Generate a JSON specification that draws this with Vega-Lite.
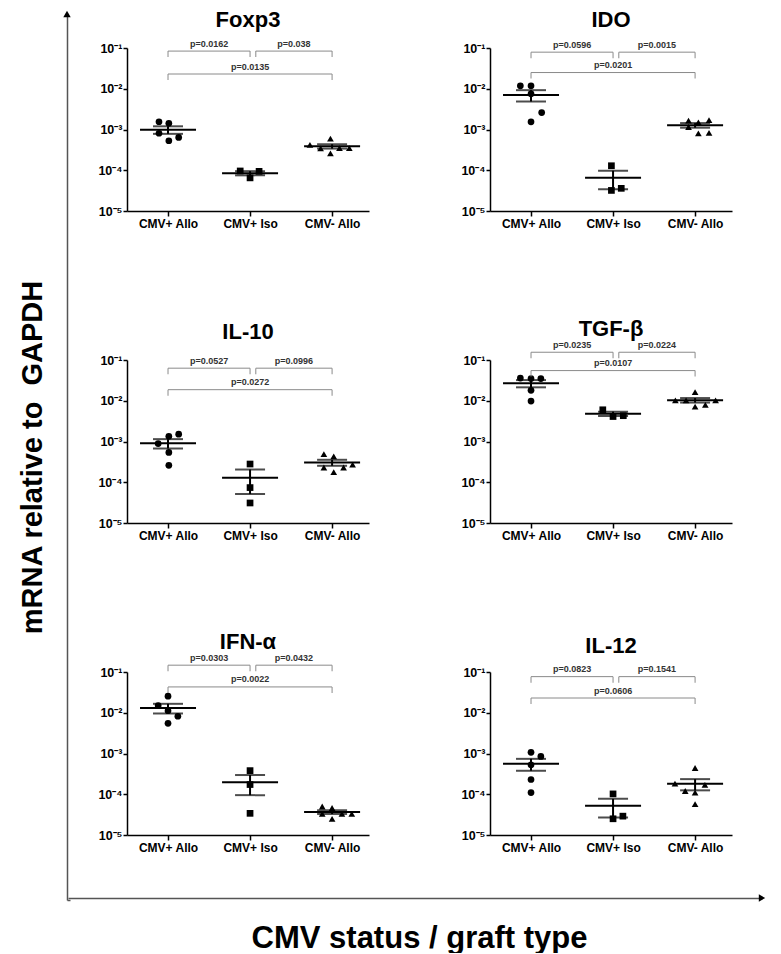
{
"$schema": "https://vega.github.io/schema/vega-lite/v6.json",
"padding": {"left": 18, "top": 9, "right": 0, "bottom": 0},
"spacing": 26,
"datasets": {
"pts": [
{"panel":"foxp3","group":"CMV+ Allo","g":1,"x":0.89,"v":0.00155},
{"panel":"foxp3","group":"CMV+ Allo","g":1,"x":1.01,"v":0.00142},
{"panel":"foxp3","group":"CMV+ Allo","g":1,"x":0.89,"v":0.00081},
{"panel":"foxp3","group":"CMV+ Allo","g":1,"x":1.01,"v":0.00053},
{"panel":"foxp3","group":"CMV+ Allo","g":1,"x":1.13,"v":0.00064},
{"panel":"foxp3","group":"CMV+ Iso","g":2,"x":1.88,"v":0.000096},
{"panel":"foxp3","group":"CMV+ Iso","g":2,"x":2.0,"v":0.000065},
{"panel":"foxp3","group":"CMV+ Iso","g":2,"x":2.11,"v":0.000094},
{"panel":"foxp3","group":"CMV- Allo","g":3,"x":2.73,"v":0.00042},
{"panel":"foxp3","group":"CMV- Allo","g":3,"x":2.86,"v":0.000345},
{"panel":"foxp3","group":"CMV- Allo","g":3,"x":2.98,"v":0.0006},
{"panel":"foxp3","group":"CMV- Allo","g":3,"x":2.98,"v":0.00026},
{"panel":"foxp3","group":"CMV- Allo","g":3,"x":3.09,"v":0.00035},
{"panel":"foxp3","group":"CMV- Allo","g":3,"x":3.21,"v":0.00035},
{"panel":"ido","group":"CMV+ Allo","g":1,"x":0.87,"v":0.0118},
{"panel":"ido","group":"CMV+ Allo","g":1,"x":1.0,"v":0.0118},
{"panel":"ido","group":"CMV+ Allo","g":1,"x":1.0,"v":0.0075},
{"panel":"ido","group":"CMV+ Allo","g":1,"x":1.13,"v":0.0026},
{"panel":"ido","group":"CMV+ Allo","g":1,"x":1.0,"v":0.00154},
{"panel":"ido","group":"CMV+ Iso","g":2,"x":1.98,"v":0.000129},
{"panel":"ido","group":"CMV+ Iso","g":2,"x":1.98,"v":0.000032},
{"panel":"ido","group":"CMV+ Iso","g":2,"x":2.1,"v":0.000036},
{"panel":"ido","group":"CMV- Allo","g":3,"x":2.92,"v":0.00165},
{"panel":"ido","group":"CMV- Allo","g":3,"x":3.04,"v":0.0015},
{"panel":"ido","group":"CMV- Allo","g":3,"x":3.17,"v":0.0017},
{"panel":"ido","group":"CMV- Allo","g":3,"x":2.92,"v":0.00115},
{"panel":"ido","group":"CMV- Allo","g":3,"x":3.04,"v":0.0008},
{"panel":"ido","group":"CMV- Allo","g":3,"x":3.17,"v":0.00083},
{"panel":"il10","group":"CMV+ Allo","g":1,"x":0.88,"v":0.00089},
{"panel":"il10","group":"CMV+ Allo","g":1,"x":1.01,"v":0.00134},
{"panel":"il10","group":"CMV+ Allo","g":1,"x":1.13,"v":0.00151},
{"panel":"il10","group":"CMV+ Allo","g":1,"x":1.01,"v":0.00054},
{"panel":"il10","group":"CMV+ Allo","g":1,"x":1.01,"v":0.00026},
{"panel":"il10","group":"CMV+ Iso","g":2,"x":2.0,"v":0.00028},
{"panel":"il10","group":"CMV+ Iso","g":2,"x":2.0,"v":0.000074},
{"panel":"il10","group":"CMV+ Iso","g":2,"x":2.0,"v":0.000031},
{"panel":"il10","group":"CMV- Allo","g":3,"x":2.9,"v":0.00049},
{"panel":"il10","group":"CMV- Allo","g":3,"x":3.02,"v":0.00043},
{"panel":"il10","group":"CMV- Allo","g":3,"x":2.9,"v":0.00023},
{"panel":"il10","group":"CMV- Allo","g":3,"x":3.02,"v":0.000178},
{"panel":"il10","group":"CMV- Allo","g":3,"x":3.14,"v":0.00023},
{"panel":"il10","group":"CMV- Allo","g":3,"x":3.25,"v":0.00027},
{"panel":"tgfb","group":"CMV+ Allo","g":1,"x":0.87,"v":0.036},
{"panel":"tgfb","group":"CMV+ Allo","g":1,"x":1.0,"v":0.035},
{"panel":"tgfb","group":"CMV+ Allo","g":1,"x":1.12,"v":0.035},
{"panel":"tgfb","group":"CMV+ Allo","g":1,"x":1.0,"v":0.018},
{"panel":"tgfb","group":"CMV+ Allo","g":1,"x":1.0,"v":0.0098},
{"panel":"tgfb","group":"CMV+ Iso","g":2,"x":1.875,"v":0.006},
{"panel":"tgfb","group":"CMV+ Iso","g":2,"x":2.0,"v":0.0041},
{"panel":"tgfb","group":"CMV+ Iso","g":2,"x":2.125,"v":0.0043},
{"panel":"tgfb","group":"CMV- Allo","g":3,"x":2.76,"v":0.0102},
{"panel":"tgfb","group":"CMV- Allo","g":3,"x":2.89,"v":0.0102},
{"panel":"tgfb","group":"CMV- Allo","g":3,"x":3.0,"v":0.0163},
{"panel":"tgfb","group":"CMV- Allo","g":3,"x":3.0,"v":0.0072},
{"panel":"tgfb","group":"CMV- Allo","g":3,"x":3.125,"v":0.0079},
{"panel":"tgfb","group":"CMV- Allo","g":3,"x":3.25,"v":0.0102},
{"panel":"ifna","group":"CMV+ Allo","g":1,"x":1.0,"v":0.0255},
{"panel":"ifna","group":"CMV+ Allo","g":1,"x":0.88,"v":0.015},
{"panel":"ifna","group":"CMV+ Allo","g":1,"x":1.0,"v":0.0112},
{"panel":"ifna","group":"CMV+ Allo","g":1,"x":1.12,"v":0.0082},
{"panel":"ifna","group":"CMV+ Allo","g":1,"x":1.0,"v":0.0055},
{"panel":"ifna","group":"CMV+ Iso","g":2,"x":2.0,"v":0.00038},
{"panel":"ifna","group":"CMV+ Iso","g":2,"x":2.0,"v":0.000173},
{"panel":"ifna","group":"CMV+ Iso","g":2,"x":2.0,"v":0.000034},
{"panel":"ifna","group":"CMV- Allo","g":3,"x":2.88,"v":0.00005},
{"panel":"ifna","group":"CMV- Allo","g":3,"x":3.0,"v":0.000046},
{"panel":"ifna","group":"CMV- Allo","g":3,"x":2.88,"v":0.000033},
{"panel":"ifna","group":"CMV- Allo","g":3,"x":3.0,"v":0.000025},
{"panel":"ifna","group":"CMV- Allo","g":3,"x":3.12,"v":0.000033},
{"panel":"ifna","group":"CMV- Allo","g":3,"x":3.24,"v":0.000033},
{"panel":"il12","group":"CMV+ Allo","g":1,"x":1.0,"v":0.00107},
{"panel":"il12","group":"CMV+ Allo","g":1,"x":1.12,"v":0.00085},
{"panel":"il12","group":"CMV+ Allo","g":1,"x":1.0,"v":0.00053},
{"panel":"il12","group":"CMV+ Allo","g":1,"x":1.0,"v":0.00023},
{"panel":"il12","group":"CMV+ Allo","g":1,"x":1.0,"v":0.00011},
{"panel":"il12","group":"CMV+ Iso","g":2,"x":2.0,"v":0.000102},
{"panel":"il12","group":"CMV+ Iso","g":2,"x":2.0,"v":0.000025},
{"panel":"il12","group":"CMV+ Iso","g":2,"x":2.12,"v":0.000029},
{"panel":"il12","group":"CMV- Allo","g":3,"x":3.0,"v":0.00044},
{"panel":"il12","group":"CMV- Allo","g":3,"x":2.755,"v":0.000182},
{"panel":"il12","group":"CMV- Allo","g":3,"x":2.88,"v":0.00012},
{"panel":"il12","group":"CMV- Allo","g":3,"x":3.0,"v":0.00011},
{"panel":"il12","group":"CMV- Allo","g":3,"x":3.12,"v":0.00017},
{"panel":"il12","group":"CMV- Allo","g":3,"x":3.0,"v":0.000057}
],
"br": [
{"panel":"foxp3","x1":1,"x2":2,"xm":1.5,"y":0.084,"p":"p=0.0162"},
{"panel":"foxp3","x1":2.07,"x2":3,"xm":2.535,"y":0.084,"p":"p=0.038"},
{"panel":"foxp3","x1":1,"x2":3,"xm":2,"y":0.023,"p":"p=0.0135"},
{"panel":"ido","x1":1,"x2":2,"xm":1.5,"y":0.079,"p":"p=0.0596"},
{"panel":"ido","x1":2.07,"x2":3,"xm":2.535,"y":0.079,"p":"p=0.0015"},
{"panel":"ido","x1":1,"x2":3,"xm":2,"y":0.025,"p":"p=0.0201"},
{"panel":"il10","x1":1,"x2":2,"xm":1.5,"y":0.063,"p":"p=0.0527"},
{"panel":"il10","x1":2.07,"x2":3,"xm":2.535,"y":0.063,"p":"p=0.0996"},
{"panel":"il10","x1":1,"x2":3,"xm":2,"y":0.0187,"p":"p=0.0272"},
{"panel":"tgfb","x1":1,"x2":2,"xm":1.5,"y":0.155,"p":"p=0.0235"},
{"panel":"tgfb","x1":2.07,"x2":3,"xm":2.535,"y":0.155,"p":"p=0.0224"},
{"panel":"tgfb","x1":1,"x2":3,"xm":2,"y":0.055,"p":"p=0.0107"},
{"panel":"ifna","x1":1,"x2":2,"xm":1.5,"y":0.147,"p":"p=0.0303"},
{"panel":"ifna","x1":2.07,"x2":3,"xm":2.535,"y":0.147,"p":"p=0.0432"},
{"panel":"ifna","x1":1,"x2":3,"xm":2,"y":0.043,"p":"p=0.0022"},
{"panel":"il12","x1":1,"x2":2,"xm":1.5,"y":0.077,"p":"p=0.0823"},
{"panel":"il12","x1":2.07,"x2":3,"xm":2.535,"y":0.077,"p":"p=0.1541"},
{"panel":"il12","x1":1,"x2":3,"xm":2,"y":0.023,"p":"p=0.0606"}
]
},
"hconcat": [
{
"width": 3, "height": 852,
"data": {"values": [{"a": 0}]},
"mark": {"type": "point", "shape": "triangle-up", "filled": true, "color": "black", "size": 55, "opacity": 1},
"encoding": {
"x": {"datum": 0, "type": "quantitative", "scale": {"domain": [0, 1]}, "axis": {"domain": true, "domainColor": "#555555", "domainWidth": 1.5, "ticks": false, "labels": false, "title": null, "grid": false}},
"y": {"datum": 1, "type": "quantitative", "scale": {"domain": [0, 1], "range": [852, -34]}, "axis": {"domain": true, "domainColor": "#555555", "domainWidth": 1.5, "ticks": false, "labels": false, "grid": false, "title": "mRNA relative to\u00a0 GAPDH", "titleFont": "Liberation Sans", "titleFontSize": 29, "titleFontWeight": "bold", "titleColor": "black", "titlePadding": 20}}
}
},
{
"spacing": 41,
"vconcat": [
{
"columns": 2,
"bounds": "flush",
"spacing": {"row": 149, "column": 121},
"concat": [
{
"title": {"text": "Foxp3", "offset": 7.5},
"width": 242, "height": 163,
"layer": [
{"data": {"name": "pts"}, "transform": [{"filter": "datum.panel == 'foxp3'"}], "mark": {"type": "point", "filled": true, "color": "black", "size": 45, "opacity": 1}, "encoding": {"x": {"field": "x", "type": "quantitative", "scale": {"domain": [0.5, 3.45], "nice": false, "zero": false}, "axis": {"values": [1, 2, 3], "labelExpr": "datum.value == 1 ? 'CMV+ Allo' : datum.value == 2 ? 'CMV+ Iso' : 'CMV- Allo'", "title": null, "tickSize": 5, "tickWidth": 1.5, "domainWidth": 1.5, "labelFontSize": 12, "labelFontWeight": "bold", "labelPadding": 2, "labelFlush": false, "labelOverlap": false, "grid": false}}, "y": {"field": "v", "type": "quantitative", "scale": {"type": "log", "domain": [0.00001, 0.1], "nice": false}, "axis": {"values": [0.00001, 0.0001, 0.001, 0.01, 0.1], "labelExpr": "datum.value > 0.05 ? '10⁻¹' : datum.value > 0.005 ? '10⁻²' : datum.value > 0.0005 ? '10⁻³' : datum.value > 0.00005 ? '10⁻⁴' : '10⁻⁵'", "title": null, "tickSize": 4, "tickWidth": 1.5, "domainWidth": 1.5, "labelFontSize": 12.5, "labelFontWeight": "bold", "labelPadding": 1, "labelFlush": false, "labelOverlap": false, "grid": false}}, "shape": {"field": "group", "type": "nominal", "scale": {"domain": ["CMV+ Allo", "CMV+ Iso", "CMV- Allo"], "range": ["circle", "square", "triangle-up"]}, "legend": null}}},
{"data": {"name": "br"}, "transform": [{"filter": "datum.panel == 'foxp3'"}], "mark": {"type": "rule", "color": "#8a8a8a", "strokeWidth": 1, "clip": false}, "encoding": {"x": {"field": "x1", "type": "quantitative", "scale": {"domain": [0.5, 3.45], "nice": false, "zero": false}, "axis": {"values": [1, 2, 3], "labelExpr": "datum.value == 1 ? 'CMV+ Allo' : datum.value == 2 ? 'CMV+ Iso' : 'CMV- Allo'", "title": null, "tickSize": 5, "tickWidth": 1.5, "domainWidth": 1.5, "labelFontSize": 12, "labelFontWeight": "bold", "labelPadding": 2, "labelFlush": false, "labelOverlap": false, "grid": false}}, "x2": {"field": "x2"}, "y": {"field": "y", "type": "quantitative", "scale": {"type": "log", "domain": [0.00001, 0.1], "nice": false}, "axis": {"values": [0.00001, 0.0001, 0.001, 0.01, 0.1], "labelExpr": "datum.value > 0.05 ? '10⁻¹' : datum.value > 0.005 ? '10⁻²' : datum.value > 0.0005 ? '10⁻³' : datum.value > 0.00005 ? '10⁻⁴' : '10⁻⁵'", "title": null, "tickSize": 4, "tickWidth": 1.5, "domainWidth": 1.5, "labelFontSize": 12.5, "labelFontWeight": "bold", "labelPadding": 1, "labelFlush": false, "labelOverlap": false, "grid": false}}}},
{"data": {"name": "br"}, "transform": [{"filter": "datum.panel == 'foxp3'"}], "mark": {"type": "tick", "orient": "vertical", "size": 6, "thickness": 1, "color": "#8a8a8a", "yOffset": 3, "opacity": 1, "clip": false}, "encoding": {"x": {"field": "x1", "type": "quantitative", "scale": {"domain": [0.5, 3.45], "nice": false, "zero": false}, "axis": {"values": [1, 2, 3], "labelExpr": "datum.value == 1 ? 'CMV+ Allo' : datum.value == 2 ? 'CMV+ Iso' : 'CMV- Allo'", "title": null, "tickSize": 5, "tickWidth": 1.5, "domainWidth": 1.5, "labelFontSize": 12, "labelFontWeight": "bold", "labelPadding": 2, "labelFlush": false, "labelOverlap": false, "grid": false}}, "y": {"field": "y", "type": "quantitative", "scale": {"type": "log", "domain": [0.00001, 0.1], "nice": false}, "axis": {"values": [0.00001, 0.0001, 0.001, 0.01, 0.1], "labelExpr": "datum.value > 0.05 ? '10⁻¹' : datum.value > 0.005 ? '10⁻²' : datum.value > 0.0005 ? '10⁻³' : datum.value > 0.00005 ? '10⁻⁴' : '10⁻⁵'", "title": null, "tickSize": 4, "tickWidth": 1.5, "domainWidth": 1.5, "labelFontSize": 12.5, "labelFontWeight": "bold", "labelPadding": 1, "labelFlush": false, "labelOverlap": false, "grid": false}}}},
{"data": {"name": "br"}, "transform": [{"filter": "datum.panel == 'foxp3'"}], "mark": {"type": "tick", "orient": "vertical", "size": 6, "thickness": 1, "color": "#8a8a8a", "yOffset": 3, "opacity": 1, "clip": false}, "encoding": {"x": {"field": "x2", "type": "quantitative", "scale": {"domain": [0.5, 3.45], "nice": false, "zero": false}, "axis": {"values": [1, 2, 3], "labelExpr": "datum.value == 1 ? 'CMV+ Allo' : datum.value == 2 ? 'CMV+ Iso' : 'CMV- Allo'", "title": null, "tickSize": 5, "tickWidth": 1.5, "domainWidth": 1.5, "labelFontSize": 12, "labelFontWeight": "bold", "labelPadding": 2, "labelFlush": false, "labelOverlap": false, "grid": false}}, "y": {"field": "y", "type": "quantitative", "scale": {"type": "log", "domain": [0.00001, 0.1], "nice": false}, "axis": {"values": [0.00001, 0.0001, 0.001, 0.01, 0.1], "labelExpr": "datum.value > 0.05 ? '10⁻¹' : datum.value > 0.005 ? '10⁻²' : datum.value > 0.0005 ? '10⁻³' : datum.value > 0.00005 ? '10⁻⁴' : '10⁻⁵'", "title": null, "tickSize": 4, "tickWidth": 1.5, "domainWidth": 1.5, "labelFontSize": 12.5, "labelFontWeight": "bold", "labelPadding": 1, "labelFlush": false, "labelOverlap": false, "grid": false}}}},
{"data": {"name": "br"}, "transform": [{"filter": "datum.panel == 'foxp3'"}], "mark": {"type": "text", "fontSize": 9, "fontWeight": "bold", "color": "#333333", "dy": -4.5, "baseline": "alphabetic", "clip": false}, "encoding": {"x": {"field": "xm", "type": "quantitative", "scale": {"domain": [0.5, 3.45], "nice": false, "zero": false}, "axis": {"values": [1, 2, 3], "labelExpr": "datum.value == 1 ? 'CMV+ Allo' : datum.value == 2 ? 'CMV+ Iso' : 'CMV- Allo'", "title": null, "tickSize": 5, "tickWidth": 1.5, "domainWidth": 1.5, "labelFontSize": 12, "labelFontWeight": "bold", "labelPadding": 2, "labelFlush": false, "labelOverlap": false, "grid": false}}, "y": {"field": "y", "type": "quantitative", "scale": {"type": "log", "domain": [0.00001, 0.1], "nice": false}, "axis": {"values": [0.00001, 0.0001, 0.001, 0.01, 0.1], "labelExpr": "datum.value > 0.05 ? '10⁻¹' : datum.value > 0.005 ? '10⁻²' : datum.value > 0.0005 ? '10⁻³' : datum.value > 0.00005 ? '10⁻⁴' : '10⁻⁵'", "title": null, "tickSize": 4, "tickWidth": 1.5, "domainWidth": 1.5, "labelFontSize": 12.5, "labelFontWeight": "bold", "labelPadding": 1, "labelFlush": false, "labelOverlap": false, "grid": false}}, "text": {"field": "p"}}},
{"data": {"name": "pts"}, "transform": [{"filter": "datum.panel == 'foxp3'"}], "mark": {"type": "tick", "orient": "horizontal", "size": 56, "thickness": 2, "color": "black", "opacity": 1}, "encoding": {"x": {"field": "g", "type": "quantitative", "scale": {"domain": [0.5, 3.45], "nice": false, "zero": false}, "axis": {"values": [1, 2, 3], "labelExpr": "datum.value == 1 ? 'CMV+ Allo' : datum.value == 2 ? 'CMV+ Iso' : 'CMV- Allo'", "title": null, "tickSize": 5, "tickWidth": 1.5, "domainWidth": 1.5, "labelFontSize": 12, "labelFontWeight": "bold", "labelPadding": 2, "labelFlush": false, "labelOverlap": false, "grid": false}}, "y": {"field": "v", "type": "quantitative", "aggregate": "mean", "scale": {"type": "log", "domain": [0.00001, 0.1], "nice": false}, "axis": {"values": [0.00001, 0.0001, 0.001, 0.01, 0.1], "labelExpr": "datum.value > 0.05 ? '10⁻¹' : datum.value > 0.005 ? '10⁻²' : datum.value > 0.0005 ? '10⁻³' : datum.value > 0.00005 ? '10⁻⁴' : '10⁻⁵'", "title": null, "tickSize": 4, "tickWidth": 1.5, "domainWidth": 1.5, "labelFontSize": 12.5, "labelFontWeight": "bold", "labelPadding": 1, "labelFlush": false, "labelOverlap": false, "grid": false}}}},
{"data": {"name": "pts"}, "transform": [{"filter": "datum.panel == 'foxp3'"}], "mark": {"type": "errorbar", "extent": "stderr", "orient": "vertical", "color": "black", "thickness": 2, "ticks": {"size": 30, "thickness": 2, "color": "black"}, "rule": {"strokeWidth": 2, "color": "black"}}, "encoding": {"x": {"field": "g", "type": "quantitative", "scale": {"domain": [0.5, 3.45], "nice": false, "zero": false}, "axis": {"values": [1, 2, 3], "labelExpr": "datum.value == 1 ? 'CMV+ Allo' : datum.value == 2 ? 'CMV+ Iso' : 'CMV- Allo'", "title": null, "tickSize": 5, "tickWidth": 1.5, "domainWidth": 1.5, "labelFontSize": 12, "labelFontWeight": "bold", "labelPadding": 2, "labelFlush": false, "labelOverlap": false, "grid": false}}, "y": {"field": "v", "type": "quantitative", "scale": {"type": "log", "domain": [0.00001, 0.1], "nice": false}, "axis": {"values": [0.00001, 0.0001, 0.001, 0.01, 0.1], "labelExpr": "datum.value > 0.05 ? '10⁻¹' : datum.value > 0.005 ? '10⁻²' : datum.value > 0.0005 ? '10⁻³' : datum.value > 0.00005 ? '10⁻⁴' : '10⁻⁵'", "title": null, "tickSize": 4, "tickWidth": 1.5, "domainWidth": 1.5, "labelFontSize": 12.5, "labelFontWeight": "bold", "labelPadding": 1, "labelFlush": false, "labelOverlap": false, "grid": false}}}}
]
},
{
"title": {"text": "IDO", "offset": 8.5},
"width": 242, "height": 163,
"layer": [
{"data": {"name": "pts"}, "transform": [{"filter": "datum.panel == 'ido'"}], "mark": {"type": "point", "filled": true, "color": "black", "size": 45, "opacity": 1}, "encoding": {"x": {"field": "x", "type": "quantitative", "scale": {"domain": [0.5, 3.45], "nice": false, "zero": false}, "axis": {"values": [1, 2, 3], "labelExpr": "datum.value == 1 ? 'CMV+ Allo' : datum.value == 2 ? 'CMV+ Iso' : 'CMV- Allo'", "title": null, "tickSize": 5, "tickWidth": 1.5, "domainWidth": 1.5, "labelFontSize": 12, "labelFontWeight": "bold", "labelPadding": 2, "labelFlush": false, "labelOverlap": false, "grid": false}}, "y": {"field": "v", "type": "quantitative", "scale": {"type": "log", "domain": [0.00001, 0.1], "nice": false}, "axis": {"values": [0.00001, 0.0001, 0.001, 0.01, 0.1], "labelExpr": "datum.value > 0.05 ? '10⁻¹' : datum.value > 0.005 ? '10⁻²' : datum.value > 0.0005 ? '10⁻³' : datum.value > 0.00005 ? '10⁻⁴' : '10⁻⁵'", "title": null, "tickSize": 4, "tickWidth": 1.5, "domainWidth": 1.5, "labelFontSize": 12.5, "labelFontWeight": "bold", "labelPadding": 1, "labelFlush": false, "labelOverlap": false, "grid": false}}, "shape": {"field": "group", "type": "nominal", "scale": {"domain": ["CMV+ Allo", "CMV+ Iso", "CMV- Allo"], "range": ["circle", "square", "triangle-up"]}, "legend": null}}},
{"data": {"name": "br"}, "transform": [{"filter": "datum.panel == 'ido'"}], "mark": {"type": "rule", "color": "#8a8a8a", "strokeWidth": 1, "clip": false}, "encoding": {"x": {"field": "x1", "type": "quantitative", "scale": {"domain": [0.5, 3.45], "nice": false, "zero": false}, "axis": {"values": [1, 2, 3], "labelExpr": "datum.value == 1 ? 'CMV+ Allo' : datum.value == 2 ? 'CMV+ Iso' : 'CMV- Allo'", "title": null, "tickSize": 5, "tickWidth": 1.5, "domainWidth": 1.5, "labelFontSize": 12, "labelFontWeight": "bold", "labelPadding": 2, "labelFlush": false, "labelOverlap": false, "grid": false}}, "x2": {"field": "x2"}, "y": {"field": "y", "type": "quantitative", "scale": {"type": "log", "domain": [0.00001, 0.1], "nice": false}, "axis": {"values": [0.00001, 0.0001, 0.001, 0.01, 0.1], "labelExpr": "datum.value > 0.05 ? '10⁻¹' : datum.value > 0.005 ? '10⁻²' : datum.value > 0.0005 ? '10⁻³' : datum.value > 0.00005 ? '10⁻⁴' : '10⁻⁵'", "title": null, "tickSize": 4, "tickWidth": 1.5, "domainWidth": 1.5, "labelFontSize": 12.5, "labelFontWeight": "bold", "labelPadding": 1, "labelFlush": false, "labelOverlap": false, "grid": false}}}},
{"data": {"name": "br"}, "transform": [{"filter": "datum.panel == 'ido'"}], "mark": {"type": "tick", "orient": "vertical", "size": 6, "thickness": 1, "color": "#8a8a8a", "yOffset": 3, "opacity": 1, "clip": false}, "encoding": {"x": {"field": "x1", "type": "quantitative", "scale": {"domain": [0.5, 3.45], "nice": false, "zero": false}, "axis": {"values": [1, 2, 3], "labelExpr": "datum.value == 1 ? 'CMV+ Allo' : datum.value == 2 ? 'CMV+ Iso' : 'CMV- Allo'", "title": null, "tickSize": 5, "tickWidth": 1.5, "domainWidth": 1.5, "labelFontSize": 12, "labelFontWeight": "bold", "labelPadding": 2, "labelFlush": false, "labelOverlap": false, "grid": false}}, "y": {"field": "y", "type": "quantitative", "scale": {"type": "log", "domain": [0.00001, 0.1], "nice": false}, "axis": {"values": [0.00001, 0.0001, 0.001, 0.01, 0.1], "labelExpr": "datum.value > 0.05 ? '10⁻¹' : datum.value > 0.005 ? '10⁻²' : datum.value > 0.0005 ? '10⁻³' : datum.value > 0.00005 ? '10⁻⁴' : '10⁻⁵'", "title": null, "tickSize": 4, "tickWidth": 1.5, "domainWidth": 1.5, "labelFontSize": 12.5, "labelFontWeight": "bold", "labelPadding": 1, "labelFlush": false, "labelOverlap": false, "grid": false}}}},
{"data": {"name": "br"}, "transform": [{"filter": "datum.panel == 'ido'"}], "mark": {"type": "tick", "orient": "vertical", "size": 6, "thickness": 1, "color": "#8a8a8a", "yOffset": 3, "opacity": 1, "clip": false}, "encoding": {"x": {"field": "x2", "type": "quantitative", "scale": {"domain": [0.5, 3.45], "nice": false, "zero": false}, "axis": {"values": [1, 2, 3], "labelExpr": "datum.value == 1 ? 'CMV+ Allo' : datum.value == 2 ? 'CMV+ Iso' : 'CMV- Allo'", "title": null, "tickSize": 5, "tickWidth": 1.5, "domainWidth": 1.5, "labelFontSize": 12, "labelFontWeight": "bold", "labelPadding": 2, "labelFlush": false, "labelOverlap": false, "grid": false}}, "y": {"field": "y", "type": "quantitative", "scale": {"type": "log", "domain": [0.00001, 0.1], "nice": false}, "axis": {"values": [0.00001, 0.0001, 0.001, 0.01, 0.1], "labelExpr": "datum.value > 0.05 ? '10⁻¹' : datum.value > 0.005 ? '10⁻²' : datum.value > 0.0005 ? '10⁻³' : datum.value > 0.00005 ? '10⁻⁴' : '10⁻⁵'", "title": null, "tickSize": 4, "tickWidth": 1.5, "domainWidth": 1.5, "labelFontSize": 12.5, "labelFontWeight": "bold", "labelPadding": 1, "labelFlush": false, "labelOverlap": false, "grid": false}}}},
{"data": {"name": "br"}, "transform": [{"filter": "datum.panel == 'ido'"}], "mark": {"type": "text", "fontSize": 9, "fontWeight": "bold", "color": "#333333", "dy": -4.5, "baseline": "alphabetic", "clip": false}, "encoding": {"x": {"field": "xm", "type": "quantitative", "scale": {"domain": [0.5, 3.45], "nice": false, "zero": false}, "axis": {"values": [1, 2, 3], "labelExpr": "datum.value == 1 ? 'CMV+ Allo' : datum.value == 2 ? 'CMV+ Iso' : 'CMV- Allo'", "title": null, "tickSize": 5, "tickWidth": 1.5, "domainWidth": 1.5, "labelFontSize": 12, "labelFontWeight": "bold", "labelPadding": 2, "labelFlush": false, "labelOverlap": false, "grid": false}}, "y": {"field": "y", "type": "quantitative", "scale": {"type": "log", "domain": [0.00001, 0.1], "nice": false}, "axis": {"values": [0.00001, 0.0001, 0.001, 0.01, 0.1], "labelExpr": "datum.value > 0.05 ? '10⁻¹' : datum.value > 0.005 ? '10⁻²' : datum.value > 0.0005 ? '10⁻³' : datum.value > 0.00005 ? '10⁻⁴' : '10⁻⁵'", "title": null, "tickSize": 4, "tickWidth": 1.5, "domainWidth": 1.5, "labelFontSize": 12.5, "labelFontWeight": "bold", "labelPadding": 1, "labelFlush": false, "labelOverlap": false, "grid": false}}, "text": {"field": "p"}}},
{"data": {"name": "pts"}, "transform": [{"filter": "datum.panel == 'ido'"}], "mark": {"type": "tick", "orient": "horizontal", "size": 56, "thickness": 2, "color": "black", "opacity": 1}, "encoding": {"x": {"field": "g", "type": "quantitative", "scale": {"domain": [0.5, 3.45], "nice": false, "zero": false}, "axis": {"values": [1, 2, 3], "labelExpr": "datum.value == 1 ? 'CMV+ Allo' : datum.value == 2 ? 'CMV+ Iso' : 'CMV- Allo'", "title": null, "tickSize": 5, "tickWidth": 1.5, "domainWidth": 1.5, "labelFontSize": 12, "labelFontWeight": "bold", "labelPadding": 2, "labelFlush": false, "labelOverlap": false, "grid": false}}, "y": {"field": "v", "type": "quantitative", "aggregate": "mean", "scale": {"type": "log", "domain": [0.00001, 0.1], "nice": false}, "axis": {"values": [0.00001, 0.0001, 0.001, 0.01, 0.1], "labelExpr": "datum.value > 0.05 ? '10⁻¹' : datum.value > 0.005 ? '10⁻²' : datum.value > 0.0005 ? '10⁻³' : datum.value > 0.00005 ? '10⁻⁴' : '10⁻⁵'", "title": null, "tickSize": 4, "tickWidth": 1.5, "domainWidth": 1.5, "labelFontSize": 12.5, "labelFontWeight": "bold", "labelPadding": 1, "labelFlush": false, "labelOverlap": false, "grid": false}}}},
{"data": {"name": "pts"}, "transform": [{"filter": "datum.panel == 'ido'"}], "mark": {"type": "errorbar", "extent": "stderr", "orient": "vertical", "color": "black", "thickness": 2, "ticks": {"size": 30, "thickness": 2, "color": "black"}, "rule": {"strokeWidth": 2, "color": "black"}}, "encoding": {"x": {"field": "g", "type": "quantitative", "scale": {"domain": [0.5, 3.45], "nice": false, "zero": false}, "axis": {"values": [1, 2, 3], "labelExpr": "datum.value == 1 ? 'CMV+ Allo' : datum.value == 2 ? 'CMV+ Iso' : 'CMV- Allo'", "title": null, "tickSize": 5, "tickWidth": 1.5, "domainWidth": 1.5, "labelFontSize": 12, "labelFontWeight": "bold", "labelPadding": 2, "labelFlush": false, "labelOverlap": false, "grid": false}}, "y": {"field": "v", "type": "quantitative", "scale": {"type": "log", "domain": [0.00001, 0.1], "nice": false}, "axis": {"values": [0.00001, 0.0001, 0.001, 0.01, 0.1], "labelExpr": "datum.value > 0.05 ? '10⁻¹' : datum.value > 0.005 ? '10⁻²' : datum.value > 0.0005 ? '10⁻³' : datum.value > 0.00005 ? '10⁻⁴' : '10⁻⁵'", "title": null, "tickSize": 4, "tickWidth": 1.5, "domainWidth": 1.5, "labelFontSize": 12.5, "labelFontWeight": "bold", "labelPadding": 1, "labelFlush": false, "labelOverlap": false, "grid": false}}}}
]
},
{
"title": {"text": "IL-10", "offset": 10},
"width": 242, "height": 163,
"layer": [
{"data": {"name": "pts"}, "transform": [{"filter": "datum.panel == 'il10'"}], "mark": {"type": "point", "filled": true, "color": "black", "size": 45, "opacity": 1}, "encoding": {"x": {"field": "x", "type": "quantitative", "scale": {"domain": [0.5, 3.45], "nice": false, "zero": false}, "axis": {"values": [1, 2, 3], "labelExpr": "datum.value == 1 ? 'CMV+ Allo' : datum.value == 2 ? 'CMV+ Iso' : 'CMV- Allo'", "title": null, "tickSize": 5, "tickWidth": 1.5, "domainWidth": 1.5, "labelFontSize": 12, "labelFontWeight": "bold", "labelPadding": 2, "labelFlush": false, "labelOverlap": false, "grid": false}}, "y": {"field": "v", "type": "quantitative", "scale": {"type": "log", "domain": [0.00001, 0.1], "nice": false}, "axis": {"values": [0.00001, 0.0001, 0.001, 0.01, 0.1], "labelExpr": "datum.value > 0.05 ? '10⁻¹' : datum.value > 0.005 ? '10⁻²' : datum.value > 0.0005 ? '10⁻³' : datum.value > 0.00005 ? '10⁻⁴' : '10⁻⁵'", "title": null, "tickSize": 4, "tickWidth": 1.5, "domainWidth": 1.5, "labelFontSize": 12.5, "labelFontWeight": "bold", "labelPadding": 1, "labelFlush": false, "labelOverlap": false, "grid": false}}, "shape": {"field": "group", "type": "nominal", "scale": {"domain": ["CMV+ Allo", "CMV+ Iso", "CMV- Allo"], "range": ["circle", "square", "triangle-up"]}, "legend": null}}},
{"data": {"name": "br"}, "transform": [{"filter": "datum.panel == 'il10'"}], "mark": {"type": "rule", "color": "#8a8a8a", "strokeWidth": 1, "clip": false}, "encoding": {"x": {"field": "x1", "type": "quantitative", "scale": {"domain": [0.5, 3.45], "nice": false, "zero": false}, "axis": {"values": [1, 2, 3], "labelExpr": "datum.value == 1 ? 'CMV+ Allo' : datum.value == 2 ? 'CMV+ Iso' : 'CMV- Allo'", "title": null, "tickSize": 5, "tickWidth": 1.5, "domainWidth": 1.5, "labelFontSize": 12, "labelFontWeight": "bold", "labelPadding": 2, "labelFlush": false, "labelOverlap": false, "grid": false}}, "x2": {"field": "x2"}, "y": {"field": "y", "type": "quantitative", "scale": {"type": "log", "domain": [0.00001, 0.1], "nice": false}, "axis": {"values": [0.00001, 0.0001, 0.001, 0.01, 0.1], "labelExpr": "datum.value > 0.05 ? '10⁻¹' : datum.value > 0.005 ? '10⁻²' : datum.value > 0.0005 ? '10⁻³' : datum.value > 0.00005 ? '10⁻⁴' : '10⁻⁵'", "title": null, "tickSize": 4, "tickWidth": 1.5, "domainWidth": 1.5, "labelFontSize": 12.5, "labelFontWeight": "bold", "labelPadding": 1, "labelFlush": false, "labelOverlap": false, "grid": false}}}},
{"data": {"name": "br"}, "transform": [{"filter": "datum.panel == 'il10'"}], "mark": {"type": "tick", "orient": "vertical", "size": 6, "thickness": 1, "color": "#8a8a8a", "yOffset": 3, "opacity": 1, "clip": false}, "encoding": {"x": {"field": "x1", "type": "quantitative", "scale": {"domain": [0.5, 3.45], "nice": false, "zero": false}, "axis": {"values": [1, 2, 3], "labelExpr": "datum.value == 1 ? 'CMV+ Allo' : datum.value == 2 ? 'CMV+ Iso' : 'CMV- Allo'", "title": null, "tickSize": 5, "tickWidth": 1.5, "domainWidth": 1.5, "labelFontSize": 12, "labelFontWeight": "bold", "labelPadding": 2, "labelFlush": false, "labelOverlap": false, "grid": false}}, "y": {"field": "y", "type": "quantitative", "scale": {"type": "log", "domain": [0.00001, 0.1], "nice": false}, "axis": {"values": [0.00001, 0.0001, 0.001, 0.01, 0.1], "labelExpr": "datum.value > 0.05 ? '10⁻¹' : datum.value > 0.005 ? '10⁻²' : datum.value > 0.0005 ? '10⁻³' : datum.value > 0.00005 ? '10⁻⁴' : '10⁻⁵'", "title": null, "tickSize": 4, "tickWidth": 1.5, "domainWidth": 1.5, "labelFontSize": 12.5, "labelFontWeight": "bold", "labelPadding": 1, "labelFlush": false, "labelOverlap": false, "grid": false}}}},
{"data": {"name": "br"}, "transform": [{"filter": "datum.panel == 'il10'"}], "mark": {"type": "tick", "orient": "vertical", "size": 6, "thickness": 1, "color": "#8a8a8a", "yOffset": 3, "opacity": 1, "clip": false}, "encoding": {"x": {"field": "x2", "type": "quantitative", "scale": {"domain": [0.5, 3.45], "nice": false, "zero": false}, "axis": {"values": [1, 2, 3], "labelExpr": "datum.value == 1 ? 'CMV+ Allo' : datum.value == 2 ? 'CMV+ Iso' : 'CMV- Allo'", "title": null, "tickSize": 5, "tickWidth": 1.5, "domainWidth": 1.5, "labelFontSize": 12, "labelFontWeight": "bold", "labelPadding": 2, "labelFlush": false, "labelOverlap": false, "grid": false}}, "y": {"field": "y", "type": "quantitative", "scale": {"type": "log", "domain": [0.00001, 0.1], "nice": false}, "axis": {"values": [0.00001, 0.0001, 0.001, 0.01, 0.1], "labelExpr": "datum.value > 0.05 ? '10⁻¹' : datum.value > 0.005 ? '10⁻²' : datum.value > 0.0005 ? '10⁻³' : datum.value > 0.00005 ? '10⁻⁴' : '10⁻⁵'", "title": null, "tickSize": 4, "tickWidth": 1.5, "domainWidth": 1.5, "labelFontSize": 12.5, "labelFontWeight": "bold", "labelPadding": 1, "labelFlush": false, "labelOverlap": false, "grid": false}}}},
{"data": {"name": "br"}, "transform": [{"filter": "datum.panel == 'il10'"}], "mark": {"type": "text", "fontSize": 9, "fontWeight": "bold", "color": "#333333", "dy": -4.5, "baseline": "alphabetic", "clip": false}, "encoding": {"x": {"field": "xm", "type": "quantitative", "scale": {"domain": [0.5, 3.45], "nice": false, "zero": false}, "axis": {"values": [1, 2, 3], "labelExpr": "datum.value == 1 ? 'CMV+ Allo' : datum.value == 2 ? 'CMV+ Iso' : 'CMV- Allo'", "title": null, "tickSize": 5, "tickWidth": 1.5, "domainWidth": 1.5, "labelFontSize": 12, "labelFontWeight": "bold", "labelPadding": 2, "labelFlush": false, "labelOverlap": false, "grid": false}}, "y": {"field": "y", "type": "quantitative", "scale": {"type": "log", "domain": [0.00001, 0.1], "nice": false}, "axis": {"values": [0.00001, 0.0001, 0.001, 0.01, 0.1], "labelExpr": "datum.value > 0.05 ? '10⁻¹' : datum.value > 0.005 ? '10⁻²' : datum.value > 0.0005 ? '10⁻³' : datum.value > 0.00005 ? '10⁻⁴' : '10⁻⁵'", "title": null, "tickSize": 4, "tickWidth": 1.5, "domainWidth": 1.5, "labelFontSize": 12.5, "labelFontWeight": "bold", "labelPadding": 1, "labelFlush": false, "labelOverlap": false, "grid": false}}, "text": {"field": "p"}}},
{"data": {"name": "pts"}, "transform": [{"filter": "datum.panel == 'il10'"}], "mark": {"type": "tick", "orient": "horizontal", "size": 56, "thickness": 2, "color": "black", "opacity": 1}, "encoding": {"x": {"field": "g", "type": "quantitative", "scale": {"domain": [0.5, 3.45], "nice": false, "zero": false}, "axis": {"values": [1, 2, 3], "labelExpr": "datum.value == 1 ? 'CMV+ Allo' : datum.value == 2 ? 'CMV+ Iso' : 'CMV- Allo'", "title": null, "tickSize": 5, "tickWidth": 1.5, "domainWidth": 1.5, "labelFontSize": 12, "labelFontWeight": "bold", "labelPadding": 2, "labelFlush": false, "labelOverlap": false, "grid": false}}, "y": {"field": "v", "type": "quantitative", "aggregate": "mean", "scale": {"type": "log", "domain": [0.00001, 0.1], "nice": false}, "axis": {"values": [0.00001, 0.0001, 0.001, 0.01, 0.1], "labelExpr": "datum.value > 0.05 ? '10⁻¹' : datum.value > 0.005 ? '10⁻²' : datum.value > 0.0005 ? '10⁻³' : datum.value > 0.00005 ? '10⁻⁴' : '10⁻⁵'", "title": null, "tickSize": 4, "tickWidth": 1.5, "domainWidth": 1.5, "labelFontSize": 12.5, "labelFontWeight": "bold", "labelPadding": 1, "labelFlush": false, "labelOverlap": false, "grid": false}}}},
{"data": {"name": "pts"}, "transform": [{"filter": "datum.panel == 'il10'"}], "mark": {"type": "errorbar", "extent": "stderr", "orient": "vertical", "color": "black", "thickness": 2, "ticks": {"size": 30, "thickness": 2, "color": "black"}, "rule": {"strokeWidth": 2, "color": "black"}}, "encoding": {"x": {"field": "g", "type": "quantitative", "scale": {"domain": [0.5, 3.45], "nice": false, "zero": false}, "axis": {"values": [1, 2, 3], "labelExpr": "datum.value == 1 ? 'CMV+ Allo' : datum.value == 2 ? 'CMV+ Iso' : 'CMV- Allo'", "title": null, "tickSize": 5, "tickWidth": 1.5, "domainWidth": 1.5, "labelFontSize": 12, "labelFontWeight": "bold", "labelPadding": 2, "labelFlush": false, "labelOverlap": false, "grid": false}}, "y": {"field": "v", "type": "quantitative", "scale": {"type": "log", "domain": [0.00001, 0.1], "nice": false}, "axis": {"values": [0.00001, 0.0001, 0.001, 0.01, 0.1], "labelExpr": "datum.value > 0.05 ? '10⁻¹' : datum.value > 0.005 ? '10⁻²' : datum.value > 0.0005 ? '10⁻³' : datum.value > 0.00005 ? '10⁻⁴' : '10⁻⁵'", "title": null, "tickSize": 4, "tickWidth": 1.5, "domainWidth": 1.5, "labelFontSize": 12.5, "labelFontWeight": "bold", "labelPadding": 1, "labelFlush": false, "labelOverlap": false, "grid": false}}}}
]
},
{
"title": {"text": "TGF-β", "offset": 0},
"width": 242, "height": 163,
"layer": [
{"data": {"name": "pts"}, "transform": [{"filter": "datum.panel == 'tgfb'"}], "mark": {"type": "point", "filled": true, "color": "black", "size": 45, "opacity": 1}, "encoding": {"x": {"field": "x", "type": "quantitative", "scale": {"domain": [0.5, 3.45], "nice": false, "zero": false}, "axis": {"values": [1, 2, 3], "labelExpr": "datum.value == 1 ? 'CMV+ Allo' : datum.value == 2 ? 'CMV+ Iso' : 'CMV- Allo'", "title": null, "tickSize": 5, "tickWidth": 1.5, "domainWidth": 1.5, "labelFontSize": 12, "labelFontWeight": "bold", "labelPadding": 2, "labelFlush": false, "labelOverlap": false, "grid": false}}, "y": {"field": "v", "type": "quantitative", "scale": {"type": "log", "domain": [0.00001, 0.1], "nice": false}, "axis": {"values": [0.00001, 0.0001, 0.001, 0.01, 0.1], "labelExpr": "datum.value > 0.05 ? '10⁻¹' : datum.value > 0.005 ? '10⁻²' : datum.value > 0.0005 ? '10⁻³' : datum.value > 0.00005 ? '10⁻⁴' : '10⁻⁵'", "title": null, "tickSize": 4, "tickWidth": 1.5, "domainWidth": 1.5, "labelFontSize": 12.5, "labelFontWeight": "bold", "labelPadding": 1, "labelFlush": false, "labelOverlap": false, "grid": false}}, "shape": {"field": "group", "type": "nominal", "scale": {"domain": ["CMV+ Allo", "CMV+ Iso", "CMV- Allo"], "range": ["circle", "square", "triangle-up"]}, "legend": null}}},
{"data": {"name": "br"}, "transform": [{"filter": "datum.panel == 'tgfb'"}], "mark": {"type": "rule", "color": "#8a8a8a", "strokeWidth": 1, "clip": false}, "encoding": {"x": {"field": "x1", "type": "quantitative", "scale": {"domain": [0.5, 3.45], "nice": false, "zero": false}, "axis": {"values": [1, 2, 3], "labelExpr": "datum.value == 1 ? 'CMV+ Allo' : datum.value == 2 ? 'CMV+ Iso' : 'CMV- Allo'", "title": null, "tickSize": 5, "tickWidth": 1.5, "domainWidth": 1.5, "labelFontSize": 12, "labelFontWeight": "bold", "labelPadding": 2, "labelFlush": false, "labelOverlap": false, "grid": false}}, "x2": {"field": "x2"}, "y": {"field": "y", "type": "quantitative", "scale": {"type": "log", "domain": [0.00001, 0.1], "nice": false}, "axis": {"values": [0.00001, 0.0001, 0.001, 0.01, 0.1], "labelExpr": "datum.value > 0.05 ? '10⁻¹' : datum.value > 0.005 ? '10⁻²' : datum.value > 0.0005 ? '10⁻³' : datum.value > 0.00005 ? '10⁻⁴' : '10⁻⁵'", "title": null, "tickSize": 4, "tickWidth": 1.5, "domainWidth": 1.5, "labelFontSize": 12.5, "labelFontWeight": "bold", "labelPadding": 1, "labelFlush": false, "labelOverlap": false, "grid": false}}}},
{"data": {"name": "br"}, "transform": [{"filter": "datum.panel == 'tgfb'"}], "mark": {"type": "tick", "orient": "vertical", "size": 6, "thickness": 1, "color": "#8a8a8a", "yOffset": 3, "opacity": 1, "clip": false}, "encoding": {"x": {"field": "x1", "type": "quantitative", "scale": {"domain": [0.5, 3.45], "nice": false, "zero": false}, "axis": {"values": [1, 2, 3], "labelExpr": "datum.value == 1 ? 'CMV+ Allo' : datum.value == 2 ? 'CMV+ Iso' : 'CMV- Allo'", "title": null, "tickSize": 5, "tickWidth": 1.5, "domainWidth": 1.5, "labelFontSize": 12, "labelFontWeight": "bold", "labelPadding": 2, "labelFlush": false, "labelOverlap": false, "grid": false}}, "y": {"field": "y", "type": "quantitative", "scale": {"type": "log", "domain": [0.00001, 0.1], "nice": false}, "axis": {"values": [0.00001, 0.0001, 0.001, 0.01, 0.1], "labelExpr": "datum.value > 0.05 ? '10⁻¹' : datum.value > 0.005 ? '10⁻²' : datum.value > 0.0005 ? '10⁻³' : datum.value > 0.00005 ? '10⁻⁴' : '10⁻⁵'", "title": null, "tickSize": 4, "tickWidth": 1.5, "domainWidth": 1.5, "labelFontSize": 12.5, "labelFontWeight": "bold", "labelPadding": 1, "labelFlush": false, "labelOverlap": false, "grid": false}}}},
{"data": {"name": "br"}, "transform": [{"filter": "datum.panel == 'tgfb'"}], "mark": {"type": "tick", "orient": "vertical", "size": 6, "thickness": 1, "color": "#8a8a8a", "yOffset": 3, "opacity": 1, "clip": false}, "encoding": {"x": {"field": "x2", "type": "quantitative", "scale": {"domain": [0.5, 3.45], "nice": false, "zero": false}, "axis": {"values": [1, 2, 3], "labelExpr": "datum.value == 1 ? 'CMV+ Allo' : datum.value == 2 ? 'CMV+ Iso' : 'CMV- Allo'", "title": null, "tickSize": 5, "tickWidth": 1.5, "domainWidth": 1.5, "labelFontSize": 12, "labelFontWeight": "bold", "labelPadding": 2, "labelFlush": false, "labelOverlap": false, "grid": false}}, "y": {"field": "y", "type": "quantitative", "scale": {"type": "log", "domain": [0.00001, 0.1], "nice": false}, "axis": {"values": [0.00001, 0.0001, 0.001, 0.01, 0.1], "labelExpr": "datum.value > 0.05 ? '10⁻¹' : datum.value > 0.005 ? '10⁻²' : datum.value > 0.0005 ? '10⁻³' : datum.value > 0.00005 ? '10⁻⁴' : '10⁻⁵'", "title": null, "tickSize": 4, "tickWidth": 1.5, "domainWidth": 1.5, "labelFontSize": 12.5, "labelFontWeight": "bold", "labelPadding": 1, "labelFlush": false, "labelOverlap": false, "grid": false}}}},
{"data": {"name": "br"}, "transform": [{"filter": "datum.panel == 'tgfb'"}], "mark": {"type": "text", "fontSize": 9, "fontWeight": "bold", "color": "#333333", "dy": -4.5, "baseline": "alphabetic", "clip": false}, "encoding": {"x": {"field": "xm", "type": "quantitative", "scale": {"domain": [0.5, 3.45], "nice": false, "zero": false}, "axis": {"values": [1, 2, 3], "labelExpr": "datum.value == 1 ? 'CMV+ Allo' : datum.value == 2 ? 'CMV+ Iso' : 'CMV- Allo'", "title": null, "tickSize": 5, "tickWidth": 1.5, "domainWidth": 1.5, "labelFontSize": 12, "labelFontWeight": "bold", "labelPadding": 2, "labelFlush": false, "labelOverlap": false, "grid": false}}, "y": {"field": "y", "type": "quantitative", "scale": {"type": "log", "domain": [0.00001, 0.1], "nice": false}, "axis": {"values": [0.00001, 0.0001, 0.001, 0.01, 0.1], "labelExpr": "datum.value > 0.05 ? '10⁻¹' : datum.value > 0.005 ? '10⁻²' : datum.value > 0.0005 ? '10⁻³' : datum.value > 0.00005 ? '10⁻⁴' : '10⁻⁵'", "title": null, "tickSize": 4, "tickWidth": 1.5, "domainWidth": 1.5, "labelFontSize": 12.5, "labelFontWeight": "bold", "labelPadding": 1, "labelFlush": false, "labelOverlap": false, "grid": false}}, "text": {"field": "p"}}},
{"data": {"name": "pts"}, "transform": [{"filter": "datum.panel == 'tgfb'"}], "mark": {"type": "tick", "orient": "horizontal", "size": 56, "thickness": 2, "color": "black", "opacity": 1}, "encoding": {"x": {"field": "g", "type": "quantitative", "scale": {"domain": [0.5, 3.45], "nice": false, "zero": false}, "axis": {"values": [1, 2, 3], "labelExpr": "datum.value == 1 ? 'CMV+ Allo' : datum.value == 2 ? 'CMV+ Iso' : 'CMV- Allo'", "title": null, "tickSize": 5, "tickWidth": 1.5, "domainWidth": 1.5, "labelFontSize": 12, "labelFontWeight": "bold", "labelPadding": 2, "labelFlush": false, "labelOverlap": false, "grid": false}}, "y": {"field": "v", "type": "quantitative", "aggregate": "mean", "scale": {"type": "log", "domain": [0.00001, 0.1], "nice": false}, "axis": {"values": [0.00001, 0.0001, 0.001, 0.01, 0.1], "labelExpr": "datum.value > 0.05 ? '10⁻¹' : datum.value > 0.005 ? '10⁻²' : datum.value > 0.0005 ? '10⁻³' : datum.value > 0.00005 ? '10⁻⁴' : '10⁻⁵'", "title": null, "tickSize": 4, "tickWidth": 1.5, "domainWidth": 1.5, "labelFontSize": 12.5, "labelFontWeight": "bold", "labelPadding": 1, "labelFlush": false, "labelOverlap": false, "grid": false}}}},
{"data": {"name": "pts"}, "transform": [{"filter": "datum.panel == 'tgfb'"}], "mark": {"type": "errorbar", "extent": "stderr", "orient": "vertical", "color": "black", "thickness": 2, "ticks": {"size": 30, "thickness": 2, "color": "black"}, "rule": {"strokeWidth": 2, "color": "black"}}, "encoding": {"x": {"field": "g", "type": "quantitative", "scale": {"domain": [0.5, 3.45], "nice": false, "zero": false}, "axis": {"values": [1, 2, 3], "labelExpr": "datum.value == 1 ? 'CMV+ Allo' : datum.value == 2 ? 'CMV+ Iso' : 'CMV- Allo'", "title": null, "tickSize": 5, "tickWidth": 1.5, "domainWidth": 1.5, "labelFontSize": 12, "labelFontWeight": "bold", "labelPadding": 2, "labelFlush": false, "labelOverlap": false, "grid": false}}, "y": {"field": "v", "type": "quantitative", "scale": {"type": "log", "domain": [0.00001, 0.1], "nice": false}, "axis": {"values": [0.00001, 0.0001, 0.001, 0.01, 0.1], "labelExpr": "datum.value > 0.05 ? '10⁻¹' : datum.value > 0.005 ? '10⁻²' : datum.value > 0.0005 ? '10⁻³' : datum.value > 0.00005 ? '10⁻⁴' : '10⁻⁵'", "title": null, "tickSize": 4, "tickWidth": 1.5, "domainWidth": 1.5, "labelFontSize": 12.5, "labelFontWeight": "bold", "labelPadding": 1, "labelFlush": false, "labelOverlap": false, "grid": false}}}}
]
},
{
"title": {"text": "IFN-α", "offset": -0.5},
"width": 242, "height": 163,
"layer": [
{"data": {"name": "pts"}, "transform": [{"filter": "datum.panel == 'ifna'"}], "mark": {"type": "point", "filled": true, "color": "black", "size": 45, "opacity": 1}, "encoding": {"x": {"field": "x", "type": "quantitative", "scale": {"domain": [0.5, 3.45], "nice": false, "zero": false}, "axis": {"values": [1, 2, 3], "labelExpr": "datum.value == 1 ? 'CMV+ Allo' : datum.value == 2 ? 'CMV+ Iso' : 'CMV- Allo'", "title": null, "tickSize": 5, "tickWidth": 1.5, "domainWidth": 1.5, "labelFontSize": 12, "labelFontWeight": "bold", "labelPadding": 2, "labelFlush": false, "labelOverlap": false, "grid": false}}, "y": {"field": "v", "type": "quantitative", "scale": {"type": "log", "domain": [0.00001, 0.1], "nice": false}, "axis": {"values": [0.00001, 0.0001, 0.001, 0.01, 0.1], "labelExpr": "datum.value > 0.05 ? '10⁻¹' : datum.value > 0.005 ? '10⁻²' : datum.value > 0.0005 ? '10⁻³' : datum.value > 0.00005 ? '10⁻⁴' : '10⁻⁵'", "title": null, "tickSize": 4, "tickWidth": 1.5, "domainWidth": 1.5, "labelFontSize": 12.5, "labelFontWeight": "bold", "labelPadding": 1, "labelFlush": false, "labelOverlap": false, "grid": false}}, "shape": {"field": "group", "type": "nominal", "scale": {"domain": ["CMV+ Allo", "CMV+ Iso", "CMV- Allo"], "range": ["circle", "square", "triangle-up"]}, "legend": null}}},
{"data": {"name": "br"}, "transform": [{"filter": "datum.panel == 'ifna'"}], "mark": {"type": "rule", "color": "#8a8a8a", "strokeWidth": 1, "clip": false}, "encoding": {"x": {"field": "x1", "type": "quantitative", "scale": {"domain": [0.5, 3.45], "nice": false, "zero": false}, "axis": {"values": [1, 2, 3], "labelExpr": "datum.value == 1 ? 'CMV+ Allo' : datum.value == 2 ? 'CMV+ Iso' : 'CMV- Allo'", "title": null, "tickSize": 5, "tickWidth": 1.5, "domainWidth": 1.5, "labelFontSize": 12, "labelFontWeight": "bold", "labelPadding": 2, "labelFlush": false, "labelOverlap": false, "grid": false}}, "x2": {"field": "x2"}, "y": {"field": "y", "type": "quantitative", "scale": {"type": "log", "domain": [0.00001, 0.1], "nice": false}, "axis": {"values": [0.00001, 0.0001, 0.001, 0.01, 0.1], "labelExpr": "datum.value > 0.05 ? '10⁻¹' : datum.value > 0.005 ? '10⁻²' : datum.value > 0.0005 ? '10⁻³' : datum.value > 0.00005 ? '10⁻⁴' : '10⁻⁵'", "title": null, "tickSize": 4, "tickWidth": 1.5, "domainWidth": 1.5, "labelFontSize": 12.5, "labelFontWeight": "bold", "labelPadding": 1, "labelFlush": false, "labelOverlap": false, "grid": false}}}},
{"data": {"name": "br"}, "transform": [{"filter": "datum.panel == 'ifna'"}], "mark": {"type": "tick", "orient": "vertical", "size": 6, "thickness": 1, "color": "#8a8a8a", "yOffset": 3, "opacity": 1, "clip": false}, "encoding": {"x": {"field": "x1", "type": "quantitative", "scale": {"domain": [0.5, 3.45], "nice": false, "zero": false}, "axis": {"values": [1, 2, 3], "labelExpr": "datum.value == 1 ? 'CMV+ Allo' : datum.value == 2 ? 'CMV+ Iso' : 'CMV- Allo'", "title": null, "tickSize": 5, "tickWidth": 1.5, "domainWidth": 1.5, "labelFontSize": 12, "labelFontWeight": "bold", "labelPadding": 2, "labelFlush": false, "labelOverlap": false, "grid": false}}, "y": {"field": "y", "type": "quantitative", "scale": {"type": "log", "domain": [0.00001, 0.1], "nice": false}, "axis": {"values": [0.00001, 0.0001, 0.001, 0.01, 0.1], "labelExpr": "datum.value > 0.05 ? '10⁻¹' : datum.value > 0.005 ? '10⁻²' : datum.value > 0.0005 ? '10⁻³' : datum.value > 0.00005 ? '10⁻⁴' : '10⁻⁵'", "title": null, "tickSize": 4, "tickWidth": 1.5, "domainWidth": 1.5, "labelFontSize": 12.5, "labelFontWeight": "bold", "labelPadding": 1, "labelFlush": false, "labelOverlap": false, "grid": false}}}},
{"data": {"name": "br"}, "transform": [{"filter": "datum.panel == 'ifna'"}], "mark": {"type": "tick", "orient": "vertical", "size": 6, "thickness": 1, "color": "#8a8a8a", "yOffset": 3, "opacity": 1, "clip": false}, "encoding": {"x": {"field": "x2", "type": "quantitative", "scale": {"domain": [0.5, 3.45], "nice": false, "zero": false}, "axis": {"values": [1, 2, 3], "labelExpr": "datum.value == 1 ? 'CMV+ Allo' : datum.value == 2 ? 'CMV+ Iso' : 'CMV- Allo'", "title": null, "tickSize": 5, "tickWidth": 1.5, "domainWidth": 1.5, "labelFontSize": 12, "labelFontWeight": "bold", "labelPadding": 2, "labelFlush": false, "labelOverlap": false, "grid": false}}, "y": {"field": "y", "type": "quantitative", "scale": {"type": "log", "domain": [0.00001, 0.1], "nice": false}, "axis": {"values": [0.00001, 0.0001, 0.001, 0.01, 0.1], "labelExpr": "datum.value > 0.05 ? '10⁻¹' : datum.value > 0.005 ? '10⁻²' : datum.value > 0.0005 ? '10⁻³' : datum.value > 0.00005 ? '10⁻⁴' : '10⁻⁵'", "title": null, "tickSize": 4, "tickWidth": 1.5, "domainWidth": 1.5, "labelFontSize": 12.5, "labelFontWeight": "bold", "labelPadding": 1, "labelFlush": false, "labelOverlap": false, "grid": false}}}},
{"data": {"name": "br"}, "transform": [{"filter": "datum.panel == 'ifna'"}], "mark": {"type": "text", "fontSize": 9, "fontWeight": "bold", "color": "#333333", "dy": -4.5, "baseline": "alphabetic", "clip": false}, "encoding": {"x": {"field": "xm", "type": "quantitative", "scale": {"domain": [0.5, 3.45], "nice": false, "zero": false}, "axis": {"values": [1, 2, 3], "labelExpr": "datum.value == 1 ? 'CMV+ Allo' : datum.value == 2 ? 'CMV+ Iso' : 'CMV- Allo'", "title": null, "tickSize": 5, "tickWidth": 1.5, "domainWidth": 1.5, "labelFontSize": 12, "labelFontWeight": "bold", "labelPadding": 2, "labelFlush": false, "labelOverlap": false, "grid": false}}, "y": {"field": "y", "type": "quantitative", "scale": {"type": "log", "domain": [0.00001, 0.1], "nice": false}, "axis": {"values": [0.00001, 0.0001, 0.001, 0.01, 0.1], "labelExpr": "datum.value > 0.05 ? '10⁻¹' : datum.value > 0.005 ? '10⁻²' : datum.value > 0.0005 ? '10⁻³' : datum.value > 0.00005 ? '10⁻⁴' : '10⁻⁵'", "title": null, "tickSize": 4, "tickWidth": 1.5, "domainWidth": 1.5, "labelFontSize": 12.5, "labelFontWeight": "bold", "labelPadding": 1, "labelFlush": false, "labelOverlap": false, "grid": false}}, "text": {"field": "p"}}},
{"data": {"name": "pts"}, "transform": [{"filter": "datum.panel == 'ifna'"}], "mark": {"type": "tick", "orient": "horizontal", "size": 56, "thickness": 2, "color": "black", "opacity": 1}, "encoding": {"x": {"field": "g", "type": "quantitative", "scale": {"domain": [0.5, 3.45], "nice": false, "zero": false}, "axis": {"values": [1, 2, 3], "labelExpr": "datum.value == 1 ? 'CMV+ Allo' : datum.value == 2 ? 'CMV+ Iso' : 'CMV- Allo'", "title": null, "tickSize": 5, "tickWidth": 1.5, "domainWidth": 1.5, "labelFontSize": 12, "labelFontWeight": "bold", "labelPadding": 2, "labelFlush": false, "labelOverlap": false, "grid": false}}, "y": {"field": "v", "type": "quantitative", "aggregate": "mean", "scale": {"type": "log", "domain": [0.00001, 0.1], "nice": false}, "axis": {"values": [0.00001, 0.0001, 0.001, 0.01, 0.1], "labelExpr": "datum.value > 0.05 ? '10⁻¹' : datum.value > 0.005 ? '10⁻²' : datum.value > 0.0005 ? '10⁻³' : datum.value > 0.00005 ? '10⁻⁴' : '10⁻⁵'", "title": null, "tickSize": 4, "tickWidth": 1.5, "domainWidth": 1.5, "labelFontSize": 12.5, "labelFontWeight": "bold", "labelPadding": 1, "labelFlush": false, "labelOverlap": false, "grid": false}}}},
{"data": {"name": "pts"}, "transform": [{"filter": "datum.panel == 'ifna'"}], "mark": {"type": "errorbar", "extent": "stderr", "orient": "vertical", "color": "black", "thickness": 2, "ticks": {"size": 30, "thickness": 2, "color": "black"}, "rule": {"strokeWidth": 2, "color": "black"}}, "encoding": {"x": {"field": "g", "type": "quantitative", "scale": {"domain": [0.5, 3.45], "nice": false, "zero": false}, "axis": {"values": [1, 2, 3], "labelExpr": "datum.value == 1 ? 'CMV+ Allo' : datum.value == 2 ? 'CMV+ Iso' : 'CMV- Allo'", "title": null, "tickSize": 5, "tickWidth": 1.5, "domainWidth": 1.5, "labelFontSize": 12, "labelFontWeight": "bold", "labelPadding": 2, "labelFlush": false, "labelOverlap": false, "grid": false}}, "y": {"field": "v", "type": "quantitative", "scale": {"type": "log", "domain": [0.00001, 0.1], "nice": false}, "axis": {"values": [0.00001, 0.0001, 0.001, 0.01, 0.1], "labelExpr": "datum.value > 0.05 ? '10⁻¹' : datum.value > 0.005 ? '10⁻²' : datum.value > 0.0005 ? '10⁻³' : datum.value > 0.00005 ? '10⁻⁴' : '10⁻⁵'", "title": null, "tickSize": 4, "tickWidth": 1.5, "domainWidth": 1.5, "labelFontSize": 12.5, "labelFontWeight": "bold", "labelPadding": 1, "labelFlush": false, "labelOverlap": false, "grid": false}}}}
]
},
{
"title": {"text": "IL-12", "offset": 7},
"width": 242, "height": 163,
"layer": [
{"data": {"name": "pts"}, "transform": [{"filter": "datum.panel == 'il12'"}], "mark": {"type": "point", "filled": true, "color": "black", "size": 45, "opacity": 1}, "encoding": {"x": {"field": "x", "type": "quantitative", "scale": {"domain": [0.5, 3.45], "nice": false, "zero": false}, "axis": {"values": [1, 2, 3], "labelExpr": "datum.value == 1 ? 'CMV+ Allo' : datum.value == 2 ? 'CMV+ Iso' : 'CMV- Allo'", "title": null, "tickSize": 5, "tickWidth": 1.5, "domainWidth": 1.5, "labelFontSize": 12, "labelFontWeight": "bold", "labelPadding": 2, "labelFlush": false, "labelOverlap": false, "grid": false}}, "y": {"field": "v", "type": "quantitative", "scale": {"type": "log", "domain": [0.00001, 0.1], "nice": false}, "axis": {"values": [0.00001, 0.0001, 0.001, 0.01, 0.1], "labelExpr": "datum.value > 0.05 ? '10⁻¹' : datum.value > 0.005 ? '10⁻²' : datum.value > 0.0005 ? '10⁻³' : datum.value > 0.00005 ? '10⁻⁴' : '10⁻⁵'", "title": null, "tickSize": 4, "tickWidth": 1.5, "domainWidth": 1.5, "labelFontSize": 12.5, "labelFontWeight": "bold", "labelPadding": 1, "labelFlush": false, "labelOverlap": false, "grid": false}}, "shape": {"field": "group", "type": "nominal", "scale": {"domain": ["CMV+ Allo", "CMV+ Iso", "CMV- Allo"], "range": ["circle", "square", "triangle-up"]}, "legend": null}}},
{"data": {"name": "br"}, "transform": [{"filter": "datum.panel == 'il12'"}], "mark": {"type": "rule", "color": "#8a8a8a", "strokeWidth": 1, "clip": false}, "encoding": {"x": {"field": "x1", "type": "quantitative", "scale": {"domain": [0.5, 3.45], "nice": false, "zero": false}, "axis": {"values": [1, 2, 3], "labelExpr": "datum.value == 1 ? 'CMV+ Allo' : datum.value == 2 ? 'CMV+ Iso' : 'CMV- Allo'", "title": null, "tickSize": 5, "tickWidth": 1.5, "domainWidth": 1.5, "labelFontSize": 12, "labelFontWeight": "bold", "labelPadding": 2, "labelFlush": false, "labelOverlap": false, "grid": false}}, "x2": {"field": "x2"}, "y": {"field": "y", "type": "quantitative", "scale": {"type": "log", "domain": [0.00001, 0.1], "nice": false}, "axis": {"values": [0.00001, 0.0001, 0.001, 0.01, 0.1], "labelExpr": "datum.value > 0.05 ? '10⁻¹' : datum.value > 0.005 ? '10⁻²' : datum.value > 0.0005 ? '10⁻³' : datum.value > 0.00005 ? '10⁻⁴' : '10⁻⁵'", "title": null, "tickSize": 4, "tickWidth": 1.5, "domainWidth": 1.5, "labelFontSize": 12.5, "labelFontWeight": "bold", "labelPadding": 1, "labelFlush": false, "labelOverlap": false, "grid": false}}}},
{"data": {"name": "br"}, "transform": [{"filter": "datum.panel == 'il12'"}], "mark": {"type": "tick", "orient": "vertical", "size": 6, "thickness": 1, "color": "#8a8a8a", "yOffset": 3, "opacity": 1, "clip": false}, "encoding": {"x": {"field": "x1", "type": "quantitative", "scale": {"domain": [0.5, 3.45], "nice": false, "zero": false}, "axis": {"values": [1, 2, 3], "labelExpr": "datum.value == 1 ? 'CMV+ Allo' : datum.value == 2 ? 'CMV+ Iso' : 'CMV- Allo'", "title": null, "tickSize": 5, "tickWidth": 1.5, "domainWidth": 1.5, "labelFontSize": 12, "labelFontWeight": "bold", "labelPadding": 2, "labelFlush": false, "labelOverlap": false, "grid": false}}, "y": {"field": "y", "type": "quantitative", "scale": {"type": "log", "domain": [0.00001, 0.1], "nice": false}, "axis": {"values": [0.00001, 0.0001, 0.001, 0.01, 0.1], "labelExpr": "datum.value > 0.05 ? '10⁻¹' : datum.value > 0.005 ? '10⁻²' : datum.value > 0.0005 ? '10⁻³' : datum.value > 0.00005 ? '10⁻⁴' : '10⁻⁵'", "title": null, "tickSize": 4, "tickWidth": 1.5, "domainWidth": 1.5, "labelFontSize": 12.5, "labelFontWeight": "bold", "labelPadding": 1, "labelFlush": false, "labelOverlap": false, "grid": false}}}},
{"data": {"name": "br"}, "transform": [{"filter": "datum.panel == 'il12'"}], "mark": {"type": "tick", "orient": "vertical", "size": 6, "thickness": 1, "color": "#8a8a8a", "yOffset": 3, "opacity": 1, "clip": false}, "encoding": {"x": {"field": "x2", "type": "quantitative", "scale": {"domain": [0.5, 3.45], "nice": false, "zero": false}, "axis": {"values": [1, 2, 3], "labelExpr": "datum.value == 1 ? 'CMV+ Allo' : datum.value == 2 ? 'CMV+ Iso' : 'CMV- Allo'", "title": null, "tickSize": 5, "tickWidth": 1.5, "domainWidth": 1.5, "labelFontSize": 12, "labelFontWeight": "bold", "labelPadding": 2, "labelFlush": false, "labelOverlap": false, "grid": false}}, "y": {"field": "y", "type": "quantitative", "scale": {"type": "log", "domain": [0.00001, 0.1], "nice": false}, "axis": {"values": [0.00001, 0.0001, 0.001, 0.01, 0.1], "labelExpr": "datum.value > 0.05 ? '10⁻¹' : datum.value > 0.005 ? '10⁻²' : datum.value > 0.0005 ? '10⁻³' : datum.value > 0.00005 ? '10⁻⁴' : '10⁻⁵'", "title": null, "tickSize": 4, "tickWidth": 1.5, "domainWidth": 1.5, "labelFontSize": 12.5, "labelFontWeight": "bold", "labelPadding": 1, "labelFlush": false, "labelOverlap": false, "grid": false}}}},
{"data": {"name": "br"}, "transform": [{"filter": "datum.panel == 'il12'"}], "mark": {"type": "text", "fontSize": 9, "fontWeight": "bold", "color": "#333333", "dy": -4.5, "baseline": "alphabetic", "clip": false}, "encoding": {"x": {"field": "xm", "type": "quantitative", "scale": {"domain": [0.5, 3.45], "nice": false, "zero": false}, "axis": {"values": [1, 2, 3], "labelExpr": "datum.value == 1 ? 'CMV+ Allo' : datum.value == 2 ? 'CMV+ Iso' : 'CMV- Allo'", "title": null, "tickSize": 5, "tickWidth": 1.5, "domainWidth": 1.5, "labelFontSize": 12, "labelFontWeight": "bold", "labelPadding": 2, "labelFlush": false, "labelOverlap": false, "grid": false}}, "y": {"field": "y", "type": "quantitative", "scale": {"type": "log", "domain": [0.00001, 0.1], "nice": false}, "axis": {"values": [0.00001, 0.0001, 0.001, 0.01, 0.1], "labelExpr": "datum.value > 0.05 ? '10⁻¹' : datum.value > 0.005 ? '10⁻²' : datum.value > 0.0005 ? '10⁻³' : datum.value > 0.00005 ? '10⁻⁴' : '10⁻⁵'", "title": null, "tickSize": 4, "tickWidth": 1.5, "domainWidth": 1.5, "labelFontSize": 12.5, "labelFontWeight": "bold", "labelPadding": 1, "labelFlush": false, "labelOverlap": false, "grid": false}}, "text": {"field": "p"}}},
{"data": {"name": "pts"}, "transform": [{"filter": "datum.panel == 'il12'"}], "mark": {"type": "tick", "orient": "horizontal", "size": 56, "thickness": 2, "color": "black", "opacity": 1}, "encoding": {"x": {"field": "g", "type": "quantitative", "scale": {"domain": [0.5, 3.45], "nice": false, "zero": false}, "axis": {"values": [1, 2, 3], "labelExpr": "datum.value == 1 ? 'CMV+ Allo' : datum.value == 2 ? 'CMV+ Iso' : 'CMV- Allo'", "title": null, "tickSize": 5, "tickWidth": 1.5, "domainWidth": 1.5, "labelFontSize": 12, "labelFontWeight": "bold", "labelPadding": 2, "labelFlush": false, "labelOverlap": false, "grid": false}}, "y": {"field": "v", "type": "quantitative", "aggregate": "mean", "scale": {"type": "log", "domain": [0.00001, 0.1], "nice": false}, "axis": {"values": [0.00001, 0.0001, 0.001, 0.01, 0.1], "labelExpr": "datum.value > 0.05 ? '10⁻¹' : datum.value > 0.005 ? '10⁻²' : datum.value > 0.0005 ? '10⁻³' : datum.value > 0.00005 ? '10⁻⁴' : '10⁻⁵'", "title": null, "tickSize": 4, "tickWidth": 1.5, "domainWidth": 1.5, "labelFontSize": 12.5, "labelFontWeight": "bold", "labelPadding": 1, "labelFlush": false, "labelOverlap": false, "grid": false}}}},
{"data": {"name": "pts"}, "transform": [{"filter": "datum.panel == 'il12'"}], "mark": {"type": "errorbar", "extent": "stderr", "orient": "vertical", "color": "black", "thickness": 2, "ticks": {"size": 30, "thickness": 2, "color": "black"}, "rule": {"strokeWidth": 2, "color": "black"}}, "encoding": {"x": {"field": "g", "type": "quantitative", "scale": {"domain": [0.5, 3.45], "nice": false, "zero": false}, "axis": {"values": [1, 2, 3], "labelExpr": "datum.value == 1 ? 'CMV+ Allo' : datum.value == 2 ? 'CMV+ Iso' : 'CMV- Allo'", "title": null, "tickSize": 5, "tickWidth": 1.5, "domainWidth": 1.5, "labelFontSize": 12, "labelFontWeight": "bold", "labelPadding": 2, "labelFlush": false, "labelOverlap": false, "grid": false}}, "y": {"field": "v", "type": "quantitative", "scale": {"type": "log", "domain": [0.00001, 0.1], "nice": false}, "axis": {"values": [0.00001, 0.0001, 0.001, 0.01, 0.1], "labelExpr": "datum.value > 0.05 ? '10⁻¹' : datum.value > 0.005 ? '10⁻²' : datum.value > 0.0005 ? '10⁻³' : datum.value > 0.00005 ? '10⁻⁴' : '10⁻⁵'", "title": null, "tickSize": 4, "tickWidth": 1.5, "domainWidth": 1.5, "labelFontSize": 12.5, "labelFontWeight": "bold", "labelPadding": 1, "labelFlush": false, "labelOverlap": false, "grid": false}}}}
]
}
]
},
{
"width": 635, "height": 1,
"data": {"values": [{"a": 0}]},
"mark": {"type": "point", "shape": "triangle-right", "filled": true, "color": "black", "size": 55, "opacity": 1},
"encoding": {
"x": {"datum": 1, "type": "quantitative", "scale": {"domain": [0, 1], "range": [-59, 635]}, "axis": {"domain": true, "domainColor": "#555555", "domainWidth": 1.5, "ticks": false, "labels": false, "grid": false, "title": "CMV status / graft type", "titleFontSize": 31, "titleFontWeight": "bold", "titleColor": "black", "titlePadding": 25, "titleX": 292}},
"y": {"datum": 0, "type": "quantitative", "scale": {"domain": [0, 1]}, "axis": null}
}
}
]
}
],
"config": {
"font": "Liberation Sans",
"view": {"stroke": null},
"axis": {"domainColor": "black", "tickColor": "black", "labelColor": "black", "grid": false},
"title": {"fontSize": 22, "fontWeight": "bold", "color": "black", "anchor": "middle", "frame": "group", "font": "Liberation Sans"}
}
}
